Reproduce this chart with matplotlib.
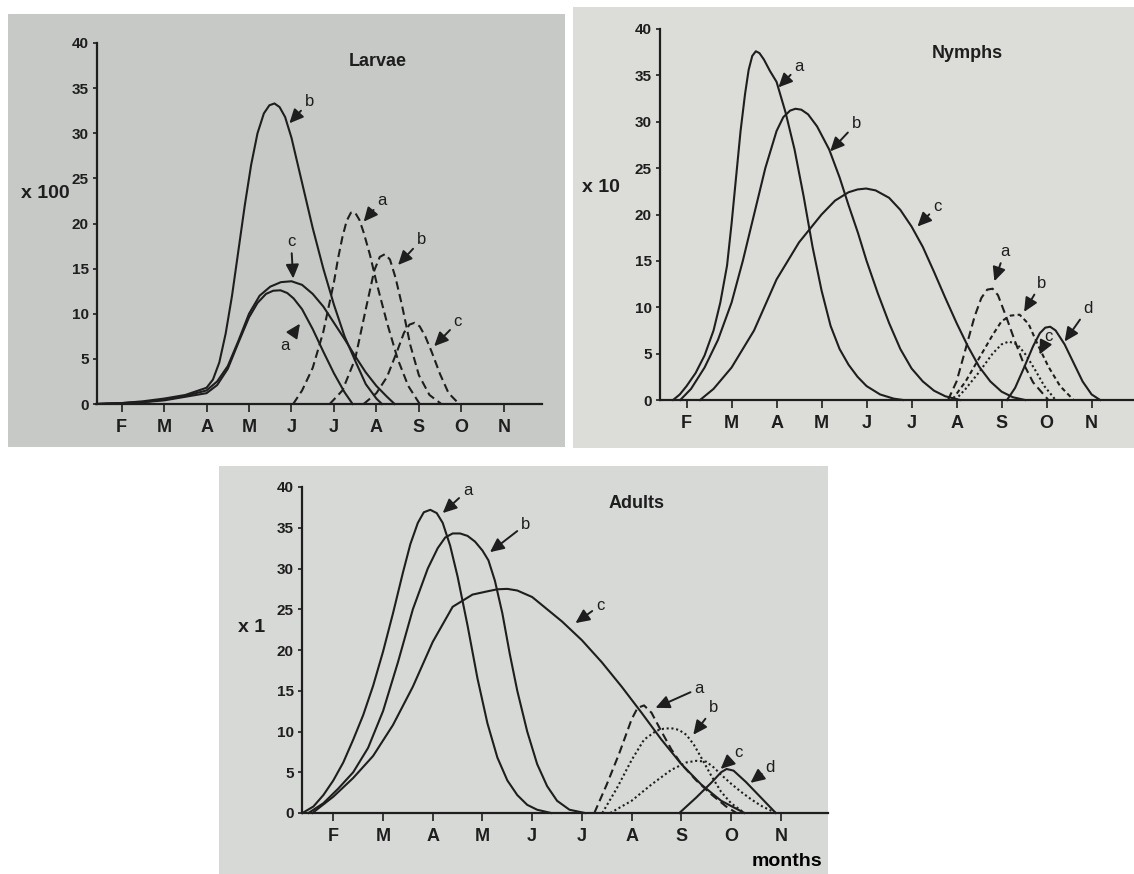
import matplotlib
matplotlib.use('Agg')
import matplotlib.pyplot as plt
from matplotlib import font_manager
from matplotlib.patches import Rectangle

W, H = 1134, 874

names = {f.name for f in font_manager.fontManager.ttflist}
FONT = 'Liberation Sans Narrow' if 'Liberation Sans Narrow' in names else 'Liberation Sans'
plt.rcParams['font.family'] = [FONT, 'DejaVu Sans']

MONTHS = ['F', 'M', 'A', 'M', 'J', 'J', 'A', 'S', 'O', 'N']
MONTH_POS = [1, 2, 3, 4, 5, 6, 7, 8, 9, 10]
Y_TICKS = [0, 5, 10, 15, 20, 25, 30, 35, 40]

# ---- Larvae (x 100) ----
lar_a_x = [0.4, 1.0, 1.5, 2.0, 2.5, 3.0, 3.25, 3.5, 3.75, 4.0, 4.2, 4.4, 4.57, 4.74, 4.9, 5.05, 5.25, 5.5, 5.75, 6.0, 6.25, 6.44]
lar_a_y = [0, 0.1, 0.2, 0.4, 0.8, 1.2, 2.1, 3.9, 6.8, 9.6, 11.2, 12.2, 12.55, 12.6, 12.3, 11.7, 10.5, 8.3, 5.8, 3.4, 1.3, 0]
lar_b_x = [0.4, 1.0, 1.5, 2.0, 2.5, 3.0, 3.15, 3.3, 3.45, 3.6, 3.75, 3.9, 4.05, 4.2, 4.35, 4.48, 4.6, 4.72, 4.85, 5.0, 5.25, 5.5, 5.75, 6.0, 6.25, 6.5, 6.75, 7.0, 7.13]
lar_b_y = [0, 0.1, 0.3, 0.6, 1.0, 1.8, 2.7, 4.6, 7.8, 12.0, 17.0, 22.0, 26.5, 30.0, 32.2, 33.1, 33.3, 32.9, 31.8, 29.5, 24.5, 19.5, 15.0, 11.0, 7.5, 4.8, 2.2, 0.6, 0]
lar_c_x = [0.4, 1.0, 1.5, 2.0, 2.5, 3.0, 3.25, 3.5, 3.75, 4.0, 4.25, 4.5, 4.75, 5.0, 5.25, 5.5, 5.75, 6.0, 6.25, 6.5, 6.75, 7.0, 7.25, 7.43]
lar_c_y = [0, 0.1, 0.2, 0.5, 0.9, 1.5, 2.5, 4.2, 7.0, 10.0, 12.0, 13.0, 13.5, 13.6, 13.2, 12.2, 10.8, 9.0, 7.2, 5.3, 3.5, 2.0, 0.8, 0]
lar_a2_x = [5.04, 5.25, 5.5, 5.75, 6.0, 6.1, 6.2, 6.3, 6.4, 6.5, 6.6, 6.7, 6.85, 7.0, 7.25, 7.5, 7.75, 8.02]
lar_a2_y = [0, 1.5, 4.0, 8.0, 13.5, 16.2, 18.5, 20.3, 21.2, 21.2, 20.4, 19.0, 16.5, 13.5, 9.0, 5.0, 2.0, 0]
lar_b2_x = [5.9, 6.2, 6.5, 6.75, 6.95, 7.08, 7.2, 7.32, 7.45, 7.6, 7.8, 8.0, 8.25, 8.53]
lar_b2_y = [0, 1.5, 5.0, 10.5, 14.8, 16.3, 16.6, 16.0, 14.0, 11.0, 6.5, 3.2, 1.0, 0]
lar_c2_x = [6.7, 7.0, 7.25, 7.5, 7.65, 7.78, 7.9, 8.02, 8.15, 8.3, 8.5, 8.7, 8.95]
lar_c2_y = [0, 1.2, 3.0, 6.0, 7.9, 8.8, 9.0, 8.6, 7.5, 5.8, 3.3, 1.2, 0]

# ---- Nymphs (x 10) ----
nym_a_x = [0.7, 0.85, 1.0, 1.2, 1.4, 1.6, 1.75, 1.9, 2.0, 2.1, 2.2, 2.3, 2.38, 2.46, 2.54, 2.62, 2.72, 2.85, 3.0, 3.2, 3.4, 3.6, 3.8, 4.0, 4.2, 4.4, 4.6, 4.8, 5.0, 5.3, 5.6, 5.81]
nym_a_y = [0, 0.6, 1.5, 2.9, 4.8, 7.5, 10.5, 14.5, 19.0, 24.0, 29.0, 33.0, 35.6, 37.1, 37.6, 37.4, 36.7, 35.5, 34.3, 31.0, 27.0, 22.0, 16.5, 11.8, 8.0, 5.5, 3.8, 2.5, 1.5, 0.6, 0.15, 0]
nym_b_x = [0.86, 1.1, 1.4, 1.7, 2.0, 2.25, 2.5, 2.75, 3.0, 3.15, 3.3, 3.42, 3.55, 3.7, 3.9, 4.17, 4.4, 4.6, 4.81, 5.0, 5.25, 5.5, 5.75, 6.0, 6.25, 6.5, 6.75, 7.08]
nym_b_y = [0, 1.2, 3.5, 6.5, 10.5, 15.0, 20.0, 25.0, 29.0, 30.5, 31.2, 31.4, 31.3, 30.8, 29.5, 27.0, 24.0, 21.0, 18.0, 15.0, 11.5, 8.3, 5.5, 3.4, 2.0, 1.0, 0.4, 0]
nym_c_x = [1.3, 1.6, 2.0, 2.5, 3.0, 3.5, 4.0, 4.3, 4.6, 4.8, 4.99, 5.2, 5.5, 5.75, 6.0, 6.25, 6.5, 6.75, 7.0, 7.25, 7.5, 7.75, 8.0, 8.25, 8.52]
nym_c_y = [0, 1.2, 3.5, 7.5, 13.0, 17.0, 20.0, 21.5, 22.4, 22.7, 22.8, 22.6, 21.8, 20.5, 18.7, 16.5, 13.8, 11.0, 8.3, 5.8, 3.6, 2.0, 0.9, 0.3, 0]
nym_a2_x = [6.81, 7.0, 7.2, 7.4, 7.55, 7.68, 7.8, 7.92, 8.1, 8.3, 8.5, 8.7, 9.04]
nym_a2_y = [0, 2.0, 5.5, 9.0, 11.0, 11.9, 12.0, 11.3, 9.0, 6.3, 3.8, 1.9, 0]
nym_b2_x = [6.9, 7.2, 7.5, 7.8, 8.0, 8.2, 8.4, 8.6, 8.8, 9.04, 9.3, 9.6]
nym_b2_y = [0, 2.0, 4.5, 7.0, 8.5, 9.1, 9.2, 8.2, 6.0, 3.6, 1.5, 0]
nym_c2_x = [6.97, 7.2, 7.5, 7.8, 8.0, 8.16, 8.35, 8.55, 8.75, 8.95, 9.2]
nym_c2_y = [0, 1.2, 3.0, 5.0, 6.0, 6.3, 6.0, 4.8, 3.2, 1.5, 0]
nym_d_x = [8.12, 8.3, 8.5, 8.7, 8.85, 8.97, 9.08, 9.2, 9.4, 9.6, 9.8, 10.0, 10.19]
nym_d_y = [0, 1.3, 3.5, 5.8, 7.2, 7.8, 7.9, 7.5, 6.0, 4.0, 2.0, 0.6, 0]

# ---- Adults (x 1) ----
adu_a_x = [0.38, 0.6, 0.8, 1.0, 1.2, 1.4, 1.6, 1.8, 2.0, 2.2, 2.4, 2.55, 2.7, 2.82, 2.95, 3.08, 3.2, 3.35, 3.5, 3.7, 3.9, 4.1, 4.3, 4.5, 4.7, 4.9, 5.1, 5.38]
adu_a_y = [0, 0.8, 2.2, 4.0, 6.2, 9.0, 12.0, 15.6, 19.8, 24.5, 29.5, 33.0, 35.6, 36.9, 37.2, 36.8, 35.6, 32.8, 29.0, 23.0, 16.5, 11.0, 6.8, 4.0, 2.2, 1.0, 0.4, 0]
adu_b_x = [0.5, 0.8, 1.1, 1.4, 1.7, 2.0, 2.3, 2.6, 2.9, 3.1, 3.25, 3.4, 3.55, 3.7, 3.85, 4.0, 4.12, 4.25, 4.4, 4.55, 4.7, 4.9, 5.1, 5.3, 5.5, 5.75, 6.06]
adu_b_y = [0, 1.2, 3.0, 5.0, 8.0, 12.5, 18.5, 25.0, 30.0, 32.5, 33.8, 34.3, 34.3, 34.0, 33.3, 32.2, 31.0, 28.5, 24.5, 19.5, 15.0, 10.0, 6.0, 3.3, 1.5, 0.4, 0]
adu_c_x = [0.58, 1.0, 1.4, 1.8, 2.2, 2.6, 3.0, 3.4, 3.8, 4.1, 4.3, 4.5, 4.7, 5.0, 5.3, 5.6, 6.0, 6.4, 6.8, 7.2, 7.6, 8.0, 8.4, 8.8, 9.27]
adu_c_y = [0, 2.0, 4.3, 7.0, 10.8, 15.5, 21.0, 25.3, 26.8, 27.2, 27.45, 27.5, 27.3, 26.5, 25.0, 23.5, 21.2, 18.5, 15.5, 12.3, 9.0, 6.0, 3.5, 1.5, 0]
adu_a2_x = [6.25, 6.5, 6.75, 7.0, 7.12, 7.25, 7.4, 7.6, 7.8, 8.0, 8.3, 8.6, 8.9, 9.11]
adu_a2_y = [0, 3.5, 7.3, 11.5, 12.9, 13.2, 12.3, 10.0, 7.8, 6.0, 4.0, 2.3, 0.8, 0]
adu_b2_x = [6.41, 6.7, 7.0, 7.25, 7.5, 7.65, 7.8, 7.95, 8.1, 8.25, 8.4, 8.6, 8.8, 9.0, 9.27]
adu_b2_y = [0, 3.0, 6.5, 9.0, 10.1, 10.35, 10.4, 10.2, 9.6, 8.4, 6.8, 4.6, 2.6, 1.2, 0]
adu_c2_x = [6.57, 7.0, 7.4, 7.8, 8.1, 8.3, 8.5, 8.65, 8.8, 9.0, 9.2, 9.4, 9.6, 9.9]
adu_c2_y = [0, 1.5, 3.5, 5.3, 6.2, 6.4, 6.3, 5.6, 4.7, 3.6, 2.6, 1.7, 0.9, 0]
adu_d_x = [7.96, 8.3, 8.6, 8.8, 8.91, 9.05, 9.3, 9.6, 9.9]
adu_d_y = [0, 1.9, 3.7, 5.0, 5.4, 5.2, 3.8, 1.9, 0]

INK = '#1e1e1e'
SOLID = '-'
DASH = (0, (4, 2.2))
SHORT = (0, (2.2, 1.6))
DOT = (0, (1, 1.3))

fig = plt.figure(figsize=(W / 100, H / 100), dpi=100)
fig.patch.set_facecolor('white')


def bg(x0, y0, x1, y1, color):
    fig.patches.append(Rectangle((x0 / W, 1 - y1 / H), (x1 - x0) / W, (y1 - y0) / H,
                                 transform=fig.transFigure, facecolor=color,
                                 edgecolor='none', zorder=-10))


def panel(x0, x1, y0, y1, xlim, curves, notes, title, title_xy, unit, unit_px):
    ax = fig.add_axes([x0 / W, 1 - y0 / H, (x1 - x0) / W, (y0 - y1) / H])
    ax.patch.set_alpha(0)
    for xs, ys, ls in curves:
        ax.plot(xs, ys, color=INK, lw=1.5, linestyle=ls, clip_on=False,
                solid_joinstyle='round')
    for txt, lab, tip in notes:
        ax.annotate(txt, xy=tip, xytext=lab, ha='center', va='center',
                    fontsize=12, color=INK, annotation_clip=False,
                    arrowprops=dict(arrowstyle='-|>,head_length=0.6,head_width=0.28',
                                    lw=1.4, color=INK, shrinkA=1, shrinkB=0,
                                    mutation_scale=14))
    ax.text(title_xy[0], title_xy[1], title, ha='center', va='center',
            fontsize=13, fontweight='bold', color=INK)
    fig.text(unit_px[0] / W, 1 - unit_px[1] / H, unit, ha='center', va='center',
             fontsize=14, fontweight='bold', color=INK)
    ax.set_xlim(*xlim)
    ax.set_ylim(0, 40)
    ax.set_xticks(MONTH_POS)
    ax.set_xticklabels(MONTHS, fontsize=13, fontweight='bold', color=INK)
    ax.set_yticks(Y_TICKS)
    ax.set_yticklabels([str(v) for v in Y_TICKS], fontsize=11, fontweight='bold', color=INK)
    ax.tick_params(axis='x', direction='out', length=6, width=1.2, pad=5, color=INK)
    ax.tick_params(axis='y', direction='out', length=3, width=1.2, pad=3, color=INK)
    for s in ['top', 'right']:
        ax.spines[s].set_visible(False)
    for s in ['left', 'bottom']:
        ax.spines[s].set_linewidth(1.6)
        ax.spines[s].set_color(INK)
    return ax


# panel backgrounds (scanned pages)
bg(8, 14, 565, 447, '#c6c9c6')
bg(573, 7, 1134, 448, '#dcddd9')
bg(219, 466, 828, 874, '#d6d9d5')

panel(97, 542, 404, 43, (0.42, 10.9),
      [(lar_a_x, lar_a_y, SOLID), (lar_b_x, lar_b_y, SOLID), (lar_c_x, lar_c_y, SOLID),
       (lar_a2_x, lar_a2_y, DASH), (lar_b2_x, lar_b2_y, DASH), (lar_c2_x, lar_c2_y, DASH)],
      [('b', (5.42, 33.5), (4.95, 31.1)),
       ('c', (4.99, 18.0), (5.04, 13.9)),
       ('a', (4.85, 6.5), (5.2, 8.9)),
       ('a', (7.13, 22.6), (6.7, 20.2)),
       ('b', (8.06, 18.2), (7.51, 15.4)),
       ('c', (8.92, 9.1), (8.36, 6.4))],
      'Larvae', (7.04, 38.0), 'x 100', (45, 193))

panel(660, 1133, 400, 29, (0.41, 10.92),
      [(nym_a_x, nym_a_y, SOLID), (nym_b_x, nym_b_y, SOLID), (nym_c_x, nym_c_y, SOLID),
       (nym_a2_x, nym_a2_y, DASH), (nym_b2_x, nym_b2_y, SHORT), (nym_c2_x, nym_c2_y, DOT),
       (nym_d_x, nym_d_y, SOLID)],
      [('a', (3.50, 36.0), (3.04, 33.7)),
       ('b', (4.77, 29.8), (4.19, 26.8)),
       ('c', (6.57, 20.9), (6.13, 18.7)),
       ('a', (8.07, 16.0), (7.84, 12.8)),
       ('b', (8.88, 12.6), (8.5, 9.5)),
       ('c', (9.04, 6.8), (8.84, 4.9)),
       ('d', (9.92, 9.9), (9.4, 6.3))],
      'Nymphs', (7.24, 37.4), 'x 10', (601, 187))

panel(302, 828, 813, 487, (0.37, 10.95),
      [(adu_a_x, adu_a_y, SOLID), (adu_b_x, adu_b_y, SOLID), (adu_c_x, adu_c_y, SOLID),
       (adu_a2_x, adu_a2_y, DASH), (adu_b2_x, adu_b2_y, DOT), (adu_c2_x, adu_c2_y, DOT),
       (adu_d_x, adu_d_y, SOLID)],
      [('a', (3.7, 39.6), (3.2, 36.8)),
       ('b', (4.87, 35.4), (4.15, 32.0)),
       ('c', (6.37, 25.5), (5.87, 23.3)),
       ('a', (8.36, 15.3), (7.48, 12.9)),
       ('b', (8.65, 12.9), (8.24, 9.6)),
       ('c', (9.15, 7.4), (8.79, 5.4)),
       ('d', (9.79, 5.6), (9.39, 3.7))],
      'Adults', (7.09, 38.0), 'x 1', (252, 627))

fig.text(787 / W, 1 - 862 / H, 'months', ha='center', va='center',
         fontsize=14, fontweight='bold', color='black', family=['Liberation Sans', 'DejaVu Sans'])

fig.savefig('out.png', dpi=100)
